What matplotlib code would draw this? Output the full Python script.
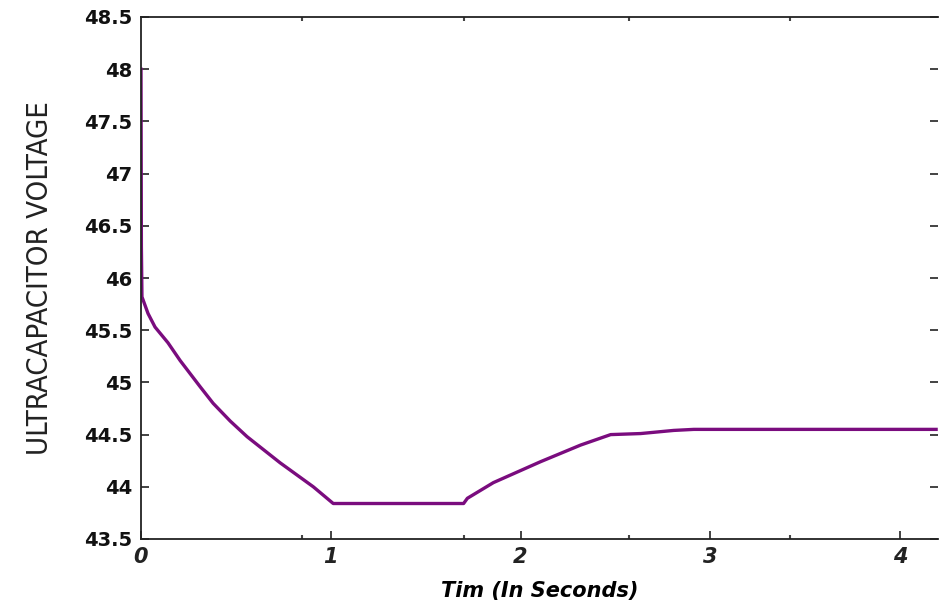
import matplotlib.pyplot as plt
import numpy as np

# Valores
tiempo = [0.0, 0.002, 0.005, 0.037, 0.074, 0.142, 0.206, 0.311, 0.38, 0.47, 0.559, 0.733, 0.908, 1.013,
          1.70, 1.72, 1.857, 2.105, 2.317, 2.475, 2.633, 2.807, 2.913, 4.19]
voltaje = [48.0, 46.3, 45.82, 45.66, 45.53, 45.38, 45.21, 44.96, 44.80, 44.63, 44.48, 44.23, 44.0, 43.84,
           43.84, 43.89, 44.04, 44.24, 44.40, 44.50, 44.51, 44.54, 44.55, 44.55]

y_ticks = [43.5, 44, 44.5, 45, 45.5, 46, 46.5, 47, 47.5, 48, 48.5]
y_labels = ['43.5', '44', '44.5', '45', '45.5', '46', '46.5', '47', '47.5', '48', '48.5']
x_ticks = [0, 1, 2, 3, 4]
x_menores = [0.85, 1.70, 2.57, 3.42]

fig = plt.figure(figsize=(9.46, 6.10), dpi=100)
ax = fig.add_axes([141 / 946, 1 - 539 / 610, (938 - 141) / 946, (539 - 17) / 610])

ax.plot(tiempo, voltaje, color='#7a0c7e', linewidth=2.4)

ax.set_xlim(0, 4.2)
ax.set_ylim(43.5, 48.5)

ax.set_yticks(y_ticks)
ax.set_yticklabels(y_labels, fontsize=14, fontweight='bold', family='DejaVu Sans')
ax.set_xticks(x_ticks)
ax.set_xticklabels([str(v) for v in x_ticks], fontsize=15, fontweight='bold',
                   fontstyle='italic', family='DejaVu Sans')
ax.set_xticks(x_menores, minor=True)

ax.tick_params(axis='both', which='major', direction='in', length=6, width=1.2,
               right=True, colors='#222222', pad=6)
ax.tick_params(axis='x', which='major', top=False)
ax.tick_params(axis='x', which='minor', direction='in', length=3, width=1.5,
               top=True, bottom=True, colors='#444444')
ax.tick_params(axis='y', labelcolor='#111111')

for lado in ['left', 'bottom', 'top']:
    ax.spines[lado].set_linewidth(1.3)
    ax.spines[lado].set_color('#222222')
ax.spines['right'].set_visible(False)

ax.set_xlabel('Tim (In Seconds)', fontsize=15, fontweight='bold', fontstyle='italic',
              family='DejaVu Sans', labelpad=10)
ax.set_ylabel('ULTRACAPACITOR VOLTAGE', fontsize=21, fontstretch='condensed',
              family=['DejaVu Sans'], labelpad=22, color='#222222')

fig.savefig('out.png', dpi=100)
